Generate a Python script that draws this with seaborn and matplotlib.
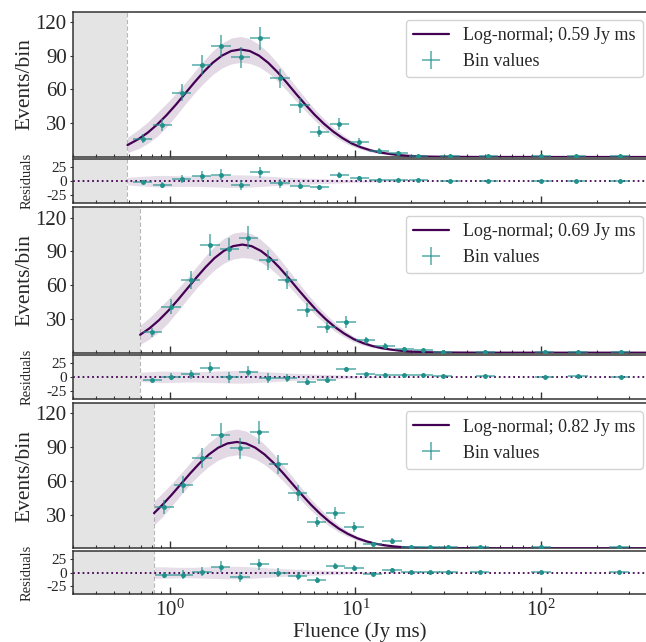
import numpy as np
import matplotlib
matplotlib.use("Agg")
import matplotlib.pyplot as plt
import matplotlib.colors as mcolors
from matplotlib.ticker import FixedLocator, LogLocator, NullFormatter, LogFormatterMathtext
from matplotlib.lines import Line2D
import seaborn as sns

# ---------------- data ----------------
thresholds = [0.59, 0.69, 0.82]
legend_labels = ["Log-normal; 0.59 Jy ms", "Log-normal; 0.69 Jy ms", "Log-normal; 0.82 Jy ms"]

# model curve samples: log10(fluence), events/bin, band half-width
curve1_logx = [-0.229, -0.17, -0.12, -0.07, -0.02, 0.03, 0.08, 0.13, 0.18, 0.23, 0.28, 0.33, 0.38,
               0.43, 0.48, 0.53, 0.58, 0.63, 0.68, 0.73, 0.78, 0.83, 0.88, 0.93, 0.98, 1.03, 1.08,
               1.13, 1.18, 1.23, 1.28, 1.33, 1.38, 1.48, 1.7, 2.6]
curve1_y = [10.6, 15.9, 21.6, 28.7, 36.9, 46.1, 56.0, 65.9, 75.3, 83.6, 90.0, 94.1, 95.5,
            94.1, 90.0, 83.6, 75.3, 65.9, 56.0, 46.5, 37.5, 29.5, 22.6, 16.8, 12.0, 8.6, 6.0,
            4.1, 2.8, 1.8, 1.1, 0.7, 0.4, 0.15, 0.0, 0.0]
band1 = [6.8, 8.5, 9.5, 10.5, 10.5, 10.0, 9.5, 9.5, 10.0, 10.5, 11.0, 11.5, 11.5,
         11.0, 10.0, 9.0, 8.0, 7.0, 6.3, 5.7, 5.0, 4.5, 3.8, 3.1, 2.4, 1.9, 1.5,
         1.1, 0.8, 0.6, 0.4, 0.3, 0.2, 0.1, 0.0, 0.0]

curve2_logx = [-0.161, -0.11, -0.06, -0.01, 0.04, 0.09, 0.14, 0.19, 0.24, 0.29, 0.34, 0.39,
               0.44, 0.49, 0.54, 0.59, 0.64, 0.69, 0.74, 0.79, 0.84, 0.89, 0.94, 0.99, 1.04,
               1.09, 1.14, 1.19, 1.24, 1.29, 1.34, 1.39, 1.49, 1.7, 2.6]
curve2_y = [15.9, 21.7, 28.8, 37.1, 46.4, 56.3, 66.2, 75.6, 84.0, 90.4, 94.6, 96.0,
            94.6, 90.4, 84.0, 75.6, 66.2, 56.3, 46.8, 37.7, 29.7, 22.7, 16.9, 12.1, 8.6,
            6.0, 4.1, 2.8, 1.8, 1.1, 0.7, 0.4, 0.15, 0.0, 0.0]
band2 = [8.5, 9.5, 10.5, 10.5, 10.0, 9.5, 9.5, 10.0, 10.5, 11.0, 11.5, 11.5,
         11.0, 10.0, 9.0, 8.0, 7.0, 6.3, 5.7, 5.0, 4.5, 3.8, 3.1, 2.4, 1.9,
         1.5, 1.1, 0.8, 0.6, 0.4, 0.3, 0.2, 0.1, 0.0, 0.0]

curve3_logx = [-0.086, -0.04, 0.01, 0.06, 0.11, 0.16, 0.21, 0.26, 0.31, 0.36,
               0.41, 0.46, 0.51, 0.56, 0.61, 0.66, 0.71, 0.76, 0.81, 0.86, 0.91, 0.96,
               1.01, 1.06, 1.11, 1.16, 1.21, 1.26, 1.31, 1.36, 1.46, 1.7, 2.6]
curve3_y = [31.3, 38.8, 47.8, 57.3, 66.8, 75.7, 83.4, 89.4, 93.2, 94.5,
            93.2, 89.4, 83.4, 75.7, 66.8, 57.3, 47.8, 38.8, 30.7, 23.6, 17.6, 12.8,
            9.0, 6.2, 4.1, 2.7, 1.7, 1.05, 0.62, 0.37, 0.11, 0.0, 0.0]
band3 = [10.5, 10.5, 10.0, 9.5, 9.5, 10.0, 10.5, 11.0, 11.5, 11.5,
         11.0, 10.0, 9.0, 8.0, 7.0, 6.3, 5.7, 5.0, 4.5, 3.8, 3.1, 2.4,
         1.9, 1.5, 1.1, 0.8, 0.6, 0.4, 0.3, 0.2, 0.1, 0.0, 0.0]

# binned data: log10(bin centre), counts, count error, residual
bins1_logx = [-0.147, -0.041, 0.063, 0.170, 0.275, 0.381, 0.485, 0.593, 0.701, 0.805,
              0.912, 1.020, 1.127, 1.231, 1.339, 1.51, 1.716, 2.0, 2.19, 2.426]
bins1_y = [16, 28.5, 57, 82, 98.5, 88.5, 105.5, 70, 46, 22.5,
           29, 13.5, 5.5, 3.5, 1, 1, 1, 1, 1, 1]
bins1_err = [4, 5.3, 7.5, 9, 9.9, 9.4, 10.3, 8.4, 6.8, 4.7,
             5.4, 3.7, 2.3, 1.9, 1, 1, 1, 1, 1, 1]
resid1 = [-2, -6.4, 3.2, 9.5, 11.5, -7, 16.5, -3.8, -8.3, -11.5,
          11.5, 5.7, 2.5, 2.5, 1.3, 0.5, 0.5, 0.3, 0.5, 0.3]

bins2_logx = [-0.095, 0.005, 0.112, 0.216, 0.320, 0.422, 0.530, 0.632, 0.737, 0.844,
              0.949, 1.055, 1.159, 1.263, 1.366, 1.47, 1.70, 2.02, 2.2, 2.43]
bins2_y = [18, 41, 64.5, 95.5, 92, 102, 82.5, 64.5, 38, 22.5,
           27, 11, 6.3, 3.2, 2.2, 1, 1, 1, 1, 1]
bins2_err = [4.2, 6.4, 8, 9.8, 9.6, 10.1, 9.1, 8, 6.2, 4.7,
             5.2, 3.3, 2.5, 1.8, 1.5, 1, 1, 1, 1, 1]
resid2 = [-5.6, 0, 4.4, 16.8, -1, 9.3, -2.5, -1.9, -8.7, -5,
          13.7, 4.4, 3.7, 3.1, 2.5, 1.2, 1.2, 0.3, 1, 0.3]

bins3_logx = [-0.031, 0.072, 0.173, 0.273, 0.377, 0.481, 0.584, 0.689, 0.791, 0.891,
              0.992, 1.093, 1.197, 1.299, 1.402, 1.5, 1.67, 2.0, 2.42]
bins3_y = [36.6, 56.6, 80.5, 101, 89, 103, 74.5, 49.5, 23.5, 31.5,
           18.8, 4.0, 6.4, 1.0, 1, 1, 1, 1, 1]
bins3_err = [6, 7.5, 9, 10, 9.4, 10.1, 8.6, 7, 4.8, 5.6,
             4.3, 2, 2.5, 1, 1, 1, 1, 1, 1]
resid3 = [-4.4, -3.7, 1.9, 10.6, -8.1, 15.5, 0, -6.2, -13.7, 11.2,
          8.7, -1.9, 5, 0.6, 0.3, 0.3, 0.3, 0.3, 0.3]

bin_half_dex = 0.052

main_yticks = [30, 60, 90, 120]
resid_yticks = [-25, 0, 25]
x_label = "Fluence (Jy ms)"
y_label = "Events/bin"
r_label = "Residuals"

# ---------------- style ----------------
sns.set_theme(style="ticks")
plt.rcParams['font.family'] = ['Liberation Serif', 'DejaVu Serif']
plt.rcParams['mathtext.fontset'] = 'stix'
plt.rcParams['axes.unicode_minus'] = False

PURPLE = '#440154'
TEAL = '#21918c'
TEAL_E = mcolors.to_rgba(TEAL, 0.7)
GREY = '#e4e4e4'
SPINE = '#333333'
XMIN, XMAX = 0.3, 373

W, H = 646, 642
fig = plt.figure(figsize=(W / 100, H / 100), dpi=100)

panels = [
    (curve1_logx, curve1_y, band1, bins1_logx, bins1_y, bins1_err, resid1),
    (curve2_logx, curve2_y, band2, bins2_logx, bins2_y, bins2_err, resid2),
    (curve3_logx, curve3_y, band3, bins3_logx, bins3_y, bins3_err, resid3),
]

left_px, right_px = 73, 647
wfrac = (right_px - left_px) / W


def style_axis(ax):
    for s in ax.spines.values():
        s.set_color(SPINE)
        s.set_linewidth(1.1)
    ax.set_xscale('log')
    ax.set_xlim(XMIN, XMAX)
    ax.xaxis.set_major_locator(LogLocator(base=10, numticks=10))
    ax.xaxis.set_minor_locator(LogLocator(base=10, subs=np.arange(2, 10), numticks=20))
    ax.xaxis.set_minor_formatter(NullFormatter())
    ax.tick_params(axis='x', which='major', direction='in', length=5, width=1.0,
                   color=SPINE, top=False, labelsize=15, pad=4)
    ax.tick_params(axis='x', which='minor', direction='in', length=2.5, width=0.8,
                   color=SPINE, top=False)
    ax.tick_params(axis='y', which='major', direction='out', length=2.5, width=0.8,
                   color=SPINE, right=False)


for i, (clx, cy, bw, blx, by, be, rr) in enumerate(panels):
    top = 11.7 + i * 195.7
    ax = fig.add_axes([left_px / W, 1 - (top + 145.3) / H, wfrac, 145.3 / H])
    axr = fig.add_axes([left_px / W, 1 - (top + 147.6 + 43.7) / H, wfrac, 43.7 / H])

    cx = 10 ** np.array(clx)
    cy = np.array(cy)
    bw = np.array(bw)
    bx = 10 ** np.array(blx)
    xlo = bx - 10 ** (np.array(blx) - bin_half_dex)
    xhi = 10 ** (np.array(blx) + bin_half_dex) - bx
    thr = thresholds[i]

    for a in (ax, axr):
        a.axvspan(XMIN, thr, color=GREY, lw=0, zorder=0)
        a.axvline(thr, color='#b8b8b8', ls=(0, (4, 2)), lw=0.8, zorder=0.5)

    # main panel
    ax.fill_between(cx, cy - bw, cy + bw, color=PURPLE, alpha=0.15, lw=0, zorder=1)
    sns.lineplot(x=cx, y=cy, ax=ax, color=PURPLE, lw=1.6, sort=False, zorder=3, legend=False)
    ax.errorbar(bx, by, xerr=[xlo, xhi], yerr=be, fmt='o', ms=2.5, color=TEAL,
                ecolor=TEAL_E, elinewidth=1.2, capsize=0, zorder=4)
    style_axis(ax)
    ax.set_ylim(0, 129)
    ax.yaxis.set_major_locator(FixedLocator(main_yticks))
    ax.tick_params(axis='y', labelsize=15, pad=2)
    ax.tick_params(axis='x', labelbottom=False)
    ax.set_ylabel(y_label, fontsize=15.5)
    ax.yaxis.set_label_coords(-0.067, 0.5)

    h_line = Line2D([], [], color=PURPLE, lw=1.6)
    h_err = ax.errorbar([], [], xerr=[[], []], yerr=[], fmt='none', ecolor=TEAL_E, elinewidth=1.2)
    leg = ax.legend([h_line, h_err], [legend_labels[i], "Bin values"], loc='upper right',
                    bbox_to_anchor=(1 - 4.0 / (right_px - left_px), 1 - 8.3 / 145.3),
                    borderaxespad=0, fontsize=13, frameon=True, fancybox=True,
                    edgecolor='#cccccc', framealpha=0.85, handlelength=2.0)

    # residual panel
    axr.fill_between(cx, -bw, bw, color=PURPLE, alpha=0.13, lw=0, zorder=1)
    sns.lineplot(x=[XMIN, XMAX], y=[0, 0], ax=axr, color=PURPLE, lw=1.3,
                 linestyle=':', zorder=2, legend=False)
    axr.errorbar(bx, rr, xerr=[xlo, xhi], yerr=be, fmt='o', ms=2.5, color=TEAL,
                 ecolor=TEAL_E, elinewidth=1.2, capsize=0, zorder=4)
    style_axis(axr)
    axr.set_ylim(-40, 40)
    axr.yaxis.set_major_locator(FixedLocator(resid_yticks))
    axr.tick_params(axis='y', labelsize=11, pad=2)
    axr.set_ylabel(r_label, fontsize=10.5)
    axr.yaxis.set_label_coords(-0.068, 0.5)
    if i < 2:
        axr.tick_params(axis='x', labelbottom=False)
    else:
        axr.xaxis.set_major_formatter(LogFormatterMathtext())
        axr.set_xlabel(x_label, fontsize=15, labelpad=1)

fig.savefig('out.png', dpi=100)
